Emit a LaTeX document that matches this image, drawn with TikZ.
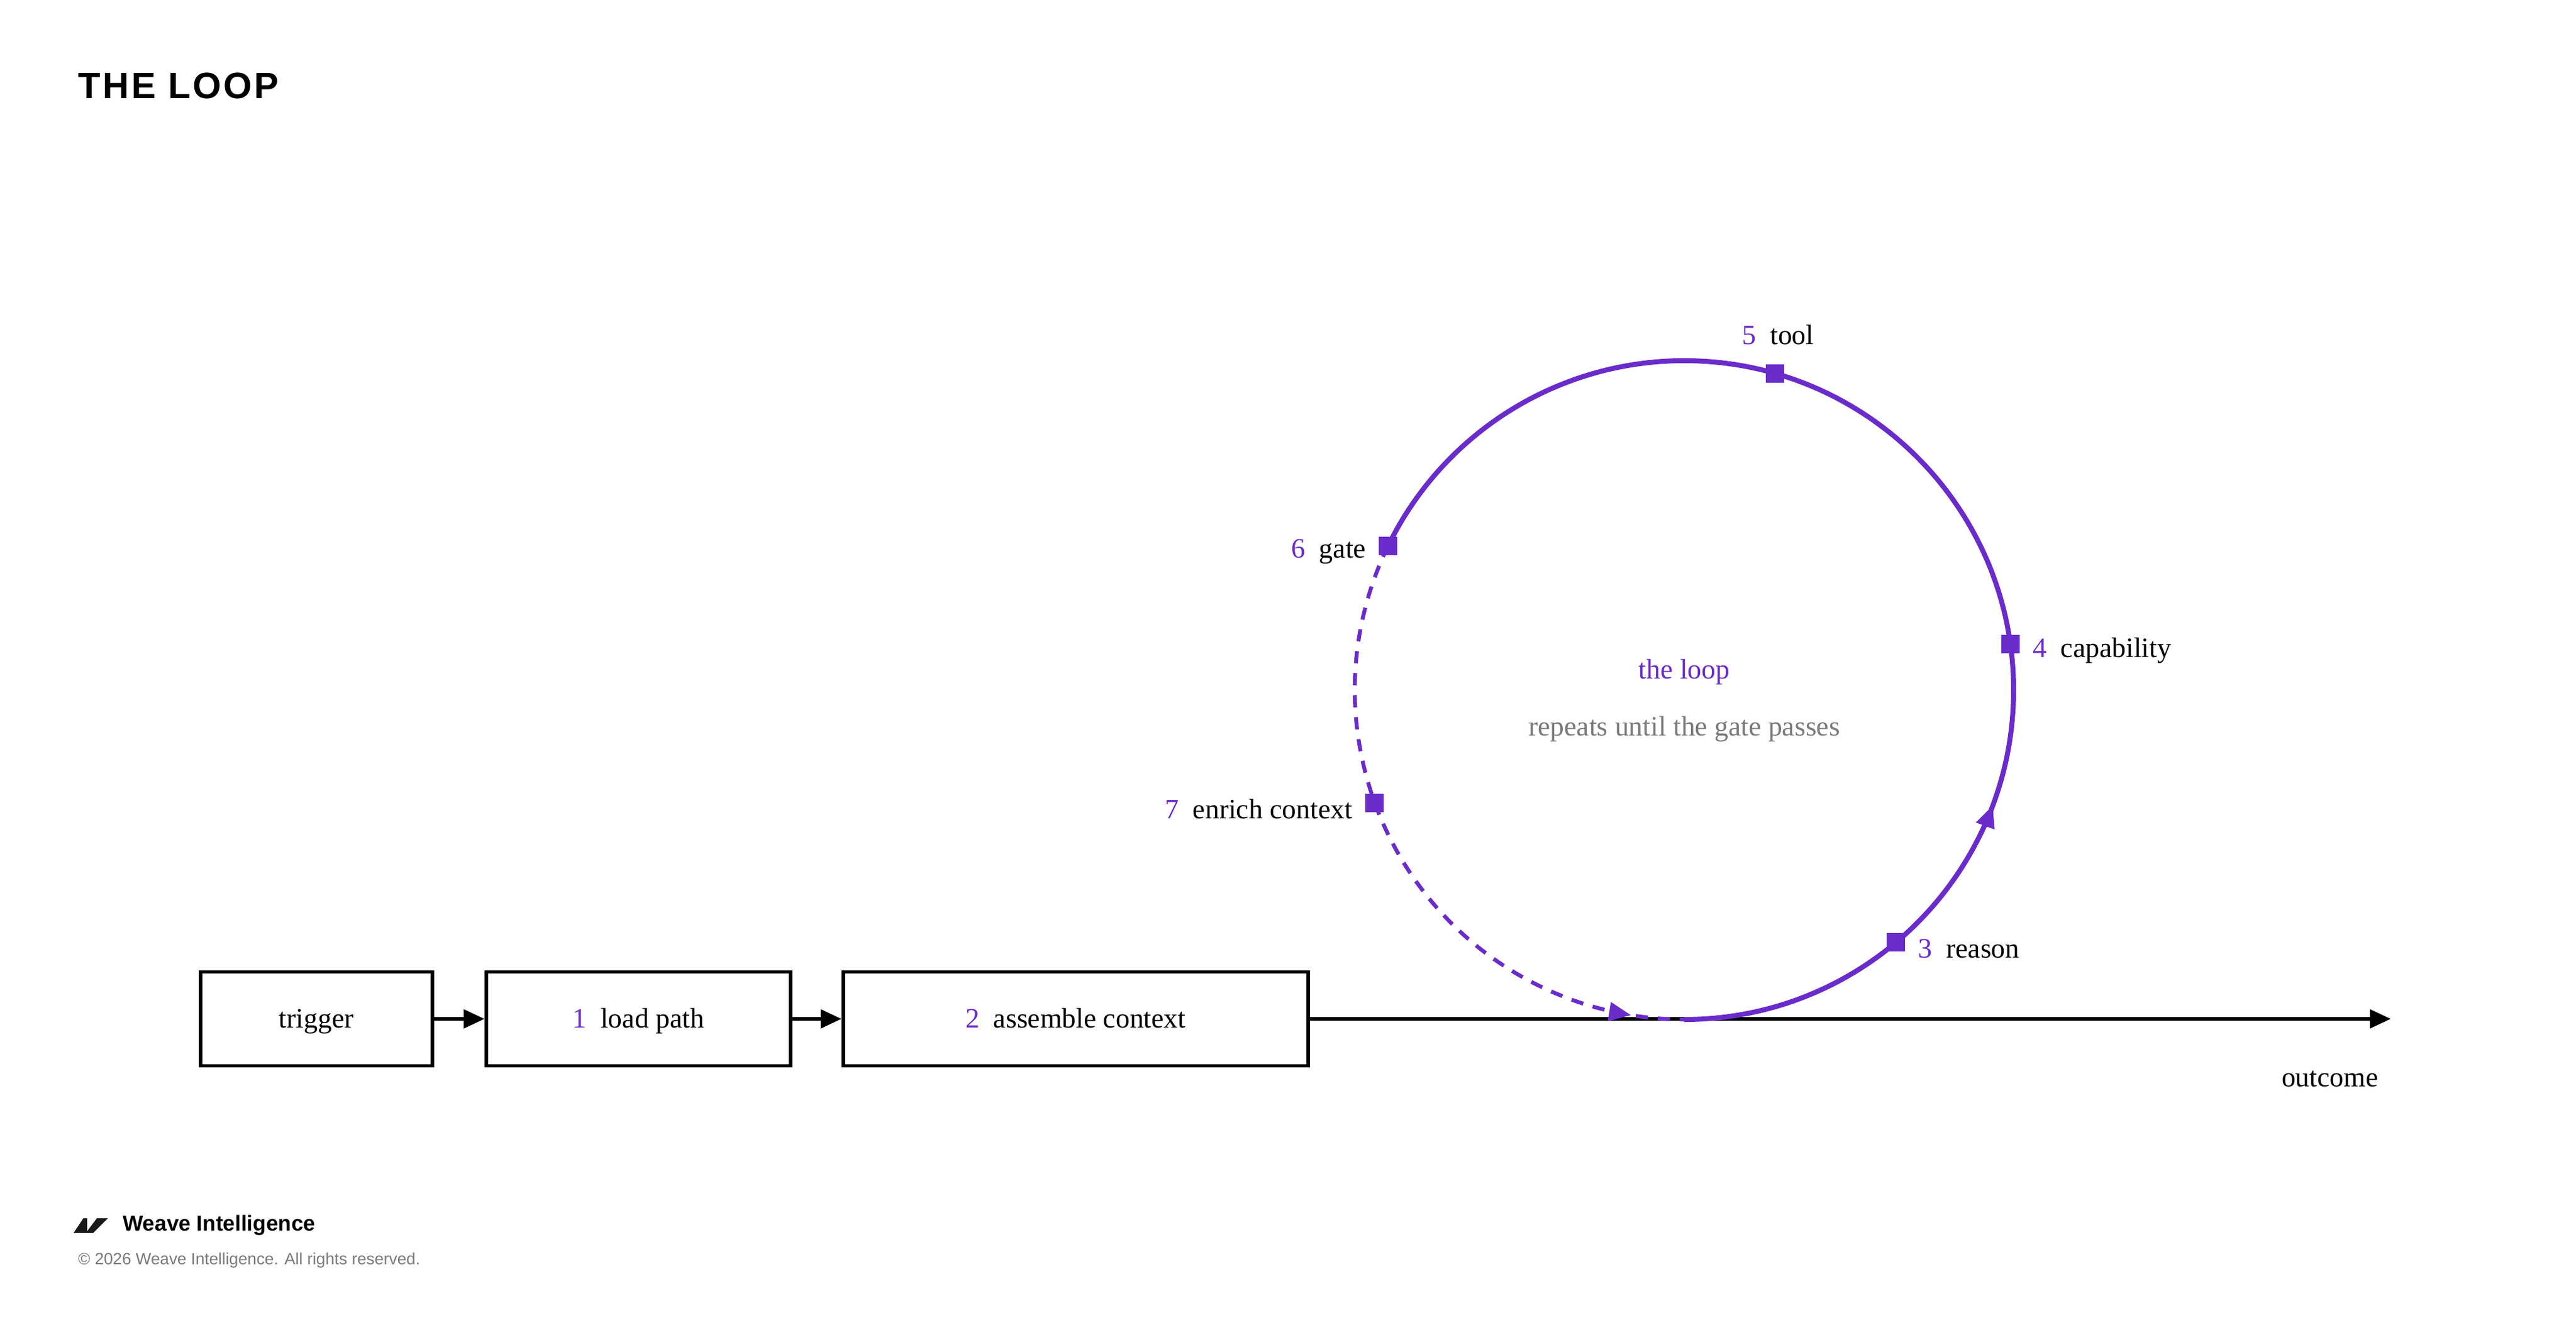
\documentclass[tikz,border=0pt]{standalone}
\usepackage{fontspec}
\setmainfont{Liberation Serif}
\setsansfont{Liberation Sans}
\usetikzlibrary{arrows.meta,decorations.markings,positioning}
\definecolor{loopviolet}{HTML}{6A2BCB}
\definecolor{notegray}{HTML}{7A7A7A}
\tikzset{
  stage/.style={draw, line width=1.6pt, minimum height=1.53cm, inner sep=0pt, text height=2.1ex, text depth=0.25ex, font=\fontsize{13}{15}\selectfont},
  flow/.style={line width=1.6pt, -{Triangle[length=0.34cm,width=0.3cm]}},
  loopline/.style={loopviolet, line width=2.3pt},
  stop/.style={fill=loopviolet, minimum size=0.3cm, inner sep=0pt},
  lbl/.style={font=\fontsize{13}{15}\selectfont, inner sep=0pt}
}
\begin{document}
\begin{tikzpicture}
\useasboundingbox (0,0) rectangle (42,21.6);
\def\r{5.37}
\coordinate (c) at (27.46,10.35);

% title and footer
\node[anchor=west, font=\sffamily\bfseries\fontsize{17}{19}\selectfont] (title) at (1.15,20.2) {T\kern1ptH\kern1ptE\kern1pt\ L\kern1ptO\kern1ptO\kern1ptP};
\fill[black!90] (1.2,1.5) -- (1.36,1.74) -- (1.42,1.74) -- (1.42,1.5) -- cycle;
\fill[black!90] (1.4,1.5) -- (1.52,1.5) -- (1.76,1.74) -- (1.58,1.74) -- cycle;
\node[anchor=west, font=\sffamily\bfseries\fontsize{10}{12}\selectfont] (brand) at (1.88,1.62) {Weave Intelligence};
\node[anchor=west, font=\sffamily\fontsize{7.6}{9}\selectfont, text=notegray] (copy) at (1.15,1.05) {© 2026 Weave Intelligence. All rights reserved.};

% linear steps
\node[stage, minimum width=3.78cm, anchor=west] (trigger) at (3.24,4.99) {trigger};
\node[stage, minimum width=4.96cm, anchor=west] (load) at (7.90,4.99) {\textcolor{loopviolet}{1}\enspace load path};
\node[stage, minimum width=7.58cm, anchor=west] (assemble) at (13.72,4.99) {\textcolor{loopviolet}{2}\enspace assemble context};
\coordinate (out) at (38.98,4.99);
\draw[flow] (trigger) -- (load);
\draw[flow] (load) -- (assemble);
\draw[flow] (assemble) -- (out);
\node[lbl, anchor=north east] (outcome) at (38.78,4.15) {outcome};

% the loop
\draw[loopline, postaction={decorate}, decoration={markings,
  mark=at position 0.285 with {\arrow{Triangle[length=0.36cm,width=0.3cm]}}}]
  ([shift={(270:\r)}]c) arc[start angle=270, end angle=514, radius=\r];
\draw[loopline, line width=1.8pt, dash pattern=on 0.2cm off 0.16cm, postaction={decorate}, decoration={markings,
  mark=at position 0.92 with {\arrow{Triangle[length=0.36cm,width=0.3cm]}}}]
  ([shift={(154:\r)}]c) arc[start angle=154, end angle=270, radius=\r];

\node[stop] (s3) at ([shift={(-50:\r)}]c) {};
\node[stop] (s4) at ([shift={(8:\r)}]c) {};
\node[stop] (s5) at ([shift={(74:\r)}]c) {};
\node[stop] (s6) at ([shift={(154:\r)}]c) {};
\node[stop] (s7) at ([shift={(200:\r)}]c) {};

\node[lbl, anchor=west] (l3) at ([xshift=0.2cm,yshift=-0.1cm]s3.east) {\textcolor{loopviolet}{3}\enspace reason};
\node[lbl, anchor=west] (l4) at ([xshift=0.2cm,yshift=-0.1cm]s4.east) {\textcolor{loopviolet}{4}\enspace capability};
\node[lbl, anchor=south] (l5) at ([xshift=0.05cm,yshift=0.3cm]s5.north) {\textcolor{loopviolet}{5}\enspace tool};
\node[lbl, anchor=east] (l6) at ([xshift=-0.2cm,yshift=-0.1cm]s6.west) {\textcolor{loopviolet}{6}\enspace gate};
\node[lbl, anchor=east] (l7) at ([xshift=-0.2cm,yshift=-0.1cm]s7.west) {\textcolor{loopviolet}{7}\enspace enrich context};

\node[lbl, text=loopviolet] (hub) at ([yshift=0.29cm]c) {the loop};
\node[lbl, text=notegray] (hubnote) at ([yshift=-0.64cm]c) {repeats until the gate passes};
\end{tikzpicture}
\end{document}
